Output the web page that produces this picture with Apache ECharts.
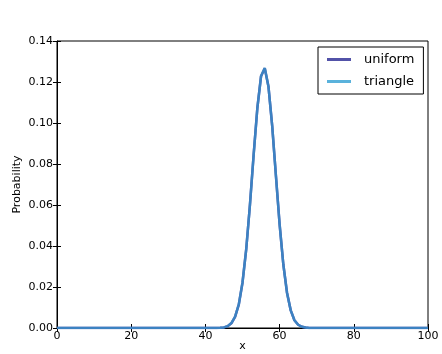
<!DOCTYPE html>
<html>
<head>
<meta charset="utf-8">
<script src="https://cdn.jsdelivr.net/npm/echarts@6/dist/echarts.min.js"></script>
<style>
	html, body { margin: 0; padding: 0; background: #fff; }
	#chart { width: 442px; height: 354px; }
</style>
</head>
<body>
<div id="chart"></div>
<script>
	// x runs 0..100, one probability per integer x
	const uniformProb = [
		0, 0, 0, 0, 0, 0, 0, 0, 0, 0,
		0, 0, 0, 0, 0, 0, 0, 0, 0, 0,
		0, 0, 0, 0, 0, 0, 0, 0, 0, 0,
		0, 0, 0, 0, 0, 0, 0, 0, 0, 0,
		0, 0, 0, 0, 0.0001, 0.0003, 0.0009, 0.0023, 0.0054, 0.0114,
		0.0221, 0.0383, 0.0600, 0.0845, 0.1073, 0.1228, 0.1267, 0.1178, 0.0987, 0.0745,
		0.0507, 0.0311, 0.0172, 0.0086, 0.0038, 0.0016, 0.0006, 0.0002, 0, 0,
		0, 0, 0, 0, 0, 0, 0, 0, 0, 0,
		0, 0, 0, 0, 0, 0, 0, 0, 0, 0,
		0, 0, 0, 0, 0, 0, 0, 0, 0, 0,
		0
	];
	const triangleProb = [
		0, 0, 0, 0, 0, 0, 0, 0, 0, 0,
		0, 0, 0, 0, 0, 0, 0, 0, 0, 0,
		0, 0, 0, 0, 0, 0, 0, 0, 0, 0,
		0, 0, 0, 0, 0, 0, 0, 0, 0, 0,
		0, 0, 0, 0, 0.0001, 0.0003, 0.0009, 0.0024, 0.0055, 0.0115,
		0.0222, 0.0384, 0.0598, 0.0843, 0.1072, 0.1229, 0.1268, 0.1177, 0.0986, 0.0744,
		0.0506, 0.0310, 0.0171, 0.0086, 0.0038, 0.0016, 0.0006, 0.0002, 0, 0,
		0, 0, 0, 0, 0, 0, 0, 0, 0, 0,
		0, 0, 0, 0, 0, 0, 0, 0, 0, 0,
		0, 0, 0, 0, 0, 0, 0, 0, 0, 0,
		0
	];
	const seriesNames = ['uniform', 'triangle'];

	const toPairs = arr => arr.map((v, i) => [i, v]);
	const font = 'DejaVu Sans';

	const chart = echarts.init(document.getElementById('chart'));

	// 刻度朝内，四边都有
	const tickIn = { show: true, inside: true, length: 4, lineStyle: { color: '#000' } };

	chart.setOption({
		animation: false,
		grid: {
			left: 57, right: 14, top: 41, bottom: 26,
			outerBoundsMode: 'none',
			containLabel: false,
			show: true, borderColor: '#000', borderWidth: 1
		},
		legend: {
			data: seriesNames,
			orient: 'vertical',
			left: 318, top: 47,
			padding: [6, 9, 6, 9],
			borderColor: '#000', borderWidth: 1,
			icon: 'rect',
			itemWidth: 24, itemHeight: 3, itemGap: 9,
			textStyle: { fontFamily: font, fontSize: 13, color: '#000', padding: [0, 0, 0, 8] }
		},
		xAxis: [
			{
				type: 'value', min: 0, max: 100, interval: 20,
				name: 'x', nameLocation: 'middle', nameGap: 13, nameMoveOverlap: false,
				nameTextStyle: { fontFamily: font, fontSize: 11, color: '#000' },
				axisLine: { show: true, lineStyle: { color: '#000' } },
				axisTick: tickIn,
				axisLabel: { fontFamily: font, fontSize: 11, color: '#000', margin: 3 },
				splitLine: { show: false }
			},
			{
				type: 'value', min: 0, max: 100, interval: 20, position: 'top',
				axisLine: { show: false }, axisTick: tickIn,
				axisLabel: { show: false }, splitLine: { show: false }
			}
		],
		yAxis: [
			{
				type: 'value', min: 0, max: 0.14, interval: 0.02,
				name: 'Probability', nameLocation: 'middle', nameGap: 34, nameMoveOverlap: false,
				nameTextStyle: { fontFamily: font, fontSize: 11, color: '#000' },
				axisLine: { show: true, lineStyle: { color: '#000' } },
				axisTick: tickIn,
				axisLabel: {
					fontFamily: font, fontSize: 11, color: '#000', margin: 4,
					formatter: v => v.toFixed(2)
				},
				splitLine: { show: false }
			},
			{
				type: 'value', min: 0, max: 0.14, interval: 0.02, position: 'right',
				axisLine: { show: false }, axisTick: tickIn,
				axisLabel: { show: false }, splitLine: { show: false }
			}
		],
		series: [
			{
				name: seriesNames[0], type: 'line', showSymbol: false,
				data: toPairs(uniformProb),
				itemStyle: { color: '#5252a8' },
				lineStyle: { color: '#4b4ba3', width: 2.5 }
			},
			{
				name: seriesNames[1], type: 'line', showSymbol: false,
				data: toPairs(triangleProb),
				itemStyle: { color: '#5ab2dc' },
				lineStyle: { color: '#3a8cc8', width: 2.5, opacity: 0.85 }
			}
		]
	});
</script>
</body>
</html>
